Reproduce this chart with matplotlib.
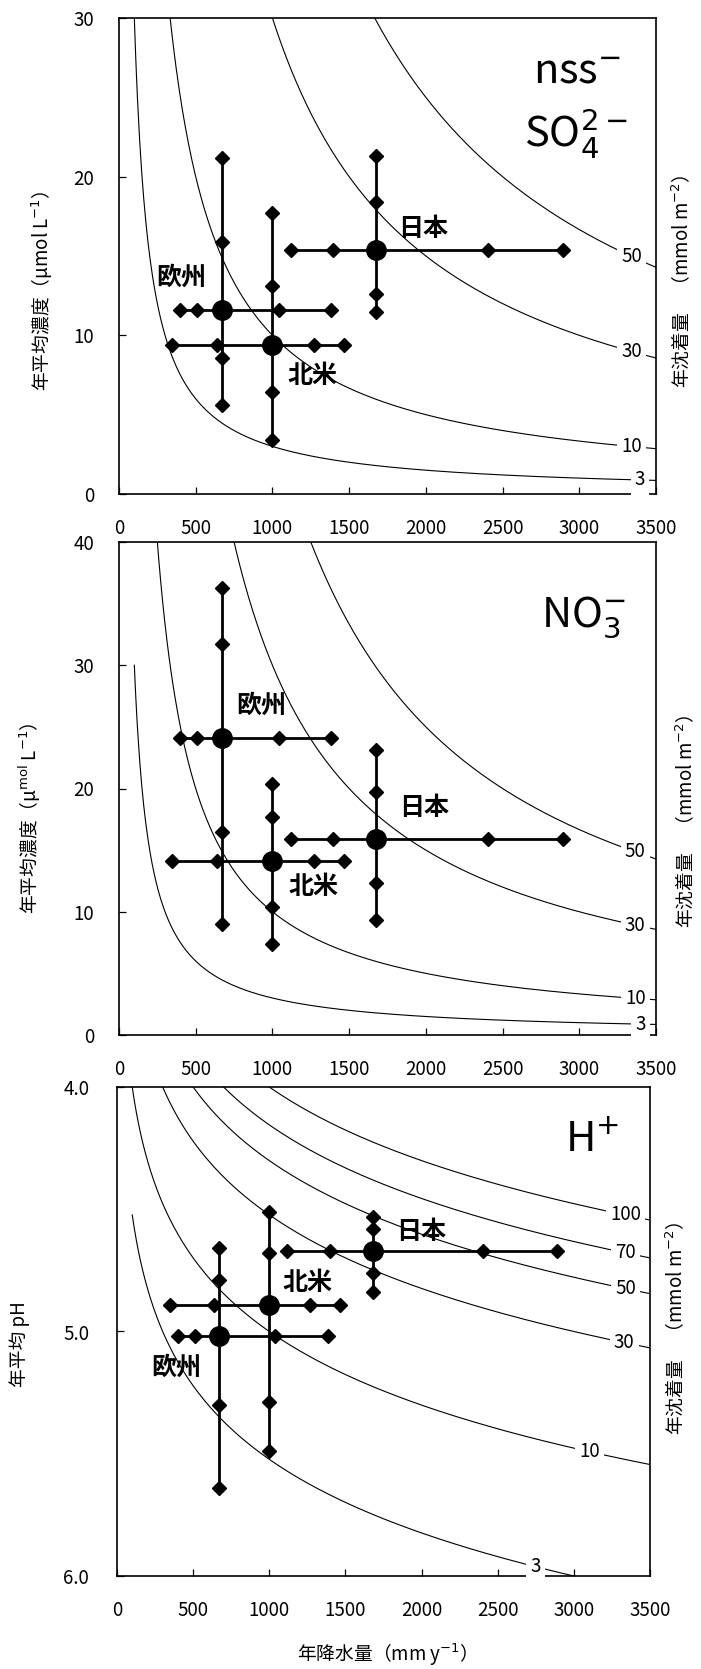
import numpy as np
import matplotlib
matplotlib.use("Agg")
import matplotlib.pyplot as plt

plt.rcParams['font.family'] = ['Noto Sans CJK JP', 'DejaVu Sans']

# annual precipitation (mm/y): 5 markers per region, middle one = mean
rain_eu = [400, 510, 672, 1040, 1383]
rain_na = [347, 637, 1000, 1268, 1466]
rain_jp = [1119, 1398, 1678, 2402, 2892]

# nss-SO4 (umol/L)
so4_eu = [5.6, 8.6, 11.6, 15.9, 21.2]
so4_na = [3.4, 6.4, 9.4, 13.1, 17.7]
so4_jp = [11.5, 12.6, 15.35, 18.4, 21.3]

# NO3 (umol/L)
no3_eu = [9.0, 16.5, 24.1, 31.7, 36.3]
no3_na = [7.4, 10.4, 14.1, 17.7, 20.4]
no3_jp = [9.3, 12.3, 15.9, 19.7, 23.1]

# pH
ph_eu = [4.66, 4.79, 5.02, 5.30, 5.64]
ph_na = [4.51, 4.68, 4.89, 5.29, 5.49]
ph_jp = [4.53, 4.58, 4.67, 4.76, 4.84]

# deposition isolines (mmol m-2 y-1)
so4_levels = [3, 10, 30, 50]
no3_levels = [3, 10, 30, 50]
h_levels = [3, 10, 30, 50, 70, 100]

regions = ['欧州', '北米', '日本']

P = np.linspace(100, 3500, 500)


def conc(d, p):
    return 1000.0 * d / p


def ph(d, p):
    return 6 - np.log10(1000.0 * d / p)


def cross(ax, xs, ys):
    ax.plot([xs[0], xs[-1]], [ys[2], ys[2]], color='k', lw=2.0, zorder=4)
    ax.plot([xs[2], xs[2]], [ys[0], ys[-1]], color='k', lw=2.0, zorder=4)
    idx = [0, 1, 3, 4]
    ax.plot([xs[i] for i in idx], [ys[2]] * 4, 'kD', ms=7.6, zorder=5)
    ax.plot([xs[2]] * 4, [ys[i] for i in idx], 'kD', ms=7.6, zorder=5)
    ax.plot(xs[2], ys[2], 'ko', ms=14, zorder=6)


def style(ax):
    for s in ax.spines.values():
        s.set_linewidth(1.2)
    ax.set_xlim(0, 3500)
    ax.set_xticks(range(0, 3501, 500))
    ax.tick_params(direction='in', length=5, width=0.9, labelsize=13.5,
                   top=False, right=False)
    ax.tick_params(axis='y', pad=18)
    ax.tick_params(axis='x', pad=17)


def curve_label(ax, x, y, s):
    ax.text(x, y, s, ha='center', va='center', fontsize=13.5, zorder=7,
            bbox=dict(boxstyle='square,pad=0.22', fc='white', ec='none'))


def region_labels(ax, spots):
    for name, (x, y) in zip(regions, spots):
        ax.text(x, y, name, ha='center', va='center', fontsize=18,
                fontweight='bold', zorder=8)


fig = plt.figure(figsize=(7.01, 16.69), dpi=100)
W, H = 701.0, 1669.0

# ---- panel 1: nss-SO4
ax1 = fig.add_axes([119 / W, 1 - 494 / H, 537 / W, 476 / H])
for d in so4_levels:
    ax1.plot(P, conc(d, P), color='k', lw=0.8, zorder=2)
for d in so4_levels:
    lx = 3395 if d < 10 else 3340
    curve_label(ax1, lx, conc(d, lx), str(d))
cross(ax1, rain_eu, so4_eu)
cross(ax1, rain_na, so4_na)
cross(ax1, rain_jp, so4_jp)
ax1.set_ylim(0, 30)
ax1.set_yticks([0, 10, 20, 30])
style(ax1)
region_labels(ax1, [(407, 13.6), (1258, 7.44), (1981, 16.7)])
ax1.text(0.853, 0.863, 'nss$^{-}$', transform=ax1.transAxes, ha='center',
         va='baseline', fontsize=30)
ax1.text(0.850, 0.729, 'SO$_4^{2-}$', transform=ax1.transAxes, ha='center',
         va='baseline', fontsize=30)

# ---- panel 2: NO3
ax2 = fig.add_axes([119 / W, 1 - 1035 / H, 537 / W, 493 / H])
for d in no3_levels:
    ax2.plot(P, conc(d, P), color='k', lw=0.8, zorder=2)
for d in no3_levels:
    lx = 3400 if d < 10 else 3365
    curve_label(ax2, lx, conc(d, lx), str(d))
cross(ax2, rain_eu, no3_eu)
cross(ax2, rain_na, no3_na)
cross(ax2, rain_jp, no3_jp)
ax2.set_ylim(0, 40)
ax2.set_yticks([0, 10, 20, 30, 40])
style(ax2)
region_labels(ax2, [(926, 26.7), (1266, 11.98), (1988, 18.4)])
ax2.text(0.865, 0.828, 'NO$_3^{-}$', transform=ax2.transAxes, ha='center',
         va='baseline', fontsize=30)

# ---- panel 3: H+ / pH
ax3 = fig.add_axes([117 / W, 1 - 1576 / H, 533 / W, 489 / H])
for d in h_levels:
    ax3.plot(P, ph(d, P), color='k', lw=0.8, zorder=2)
h_label_x = {3: 2750, 10: 3103, 30: 3330, 50: 3340, 70: 3340, 100: 3338}
for d in h_levels:
    lx = h_label_x[d]
    curve_label(ax3, lx, ph(d, lx), str(d))
cross(ax3, rain_eu, ph_eu)
cross(ax3, rain_na, ph_na)
cross(ax3, rain_jp, ph_jp)
ax3.set_ylim(6.0, 4.0)
ax3.set_yticks([4.0, 5.0, 6.0])
ax3.set_yticklabels(['4.0', '5.0', '6.0'])
style(ax3)
ax3.tick_params(axis='y', pad=20)
region_labels(ax3, [(390, 5.15), (1252, 4.80), (1995, 4.593)])
ax3.text(0.891, 0.869, 'H$^{+}$', transform=ax3.transAxes, ha='center',
         va='baseline', fontsize=30)


# ---- axis titles
def ftext(x, y, s, rot=90):
    fig.text(x / W, 1 - y / H, s, rotation=rot, ha='center', va='center',
             fontsize=13.5)


ftext(42, 291, '年平均濃度（µmol L$^{-1}$）')
ftext(683, 281, '年沈着量　（mmol m$^{-2}$）')
ftext(30, 818, '年平均濃度（µ$^{\\mathrm{mol}}$ L$^{-1}$）')
ftext(687, 821, '年沈着量　（mmol m$^{-2}$）')
ftext(20, 1344, '年平均 pH')
ftext(677, 1328, '年沈着量　（mmol m$^{-2}$）')
ftext(382, 1655, '年降水量（mm y$^{-1}$）', rot=0)

fig.savefig('out.png', dpi=100)
